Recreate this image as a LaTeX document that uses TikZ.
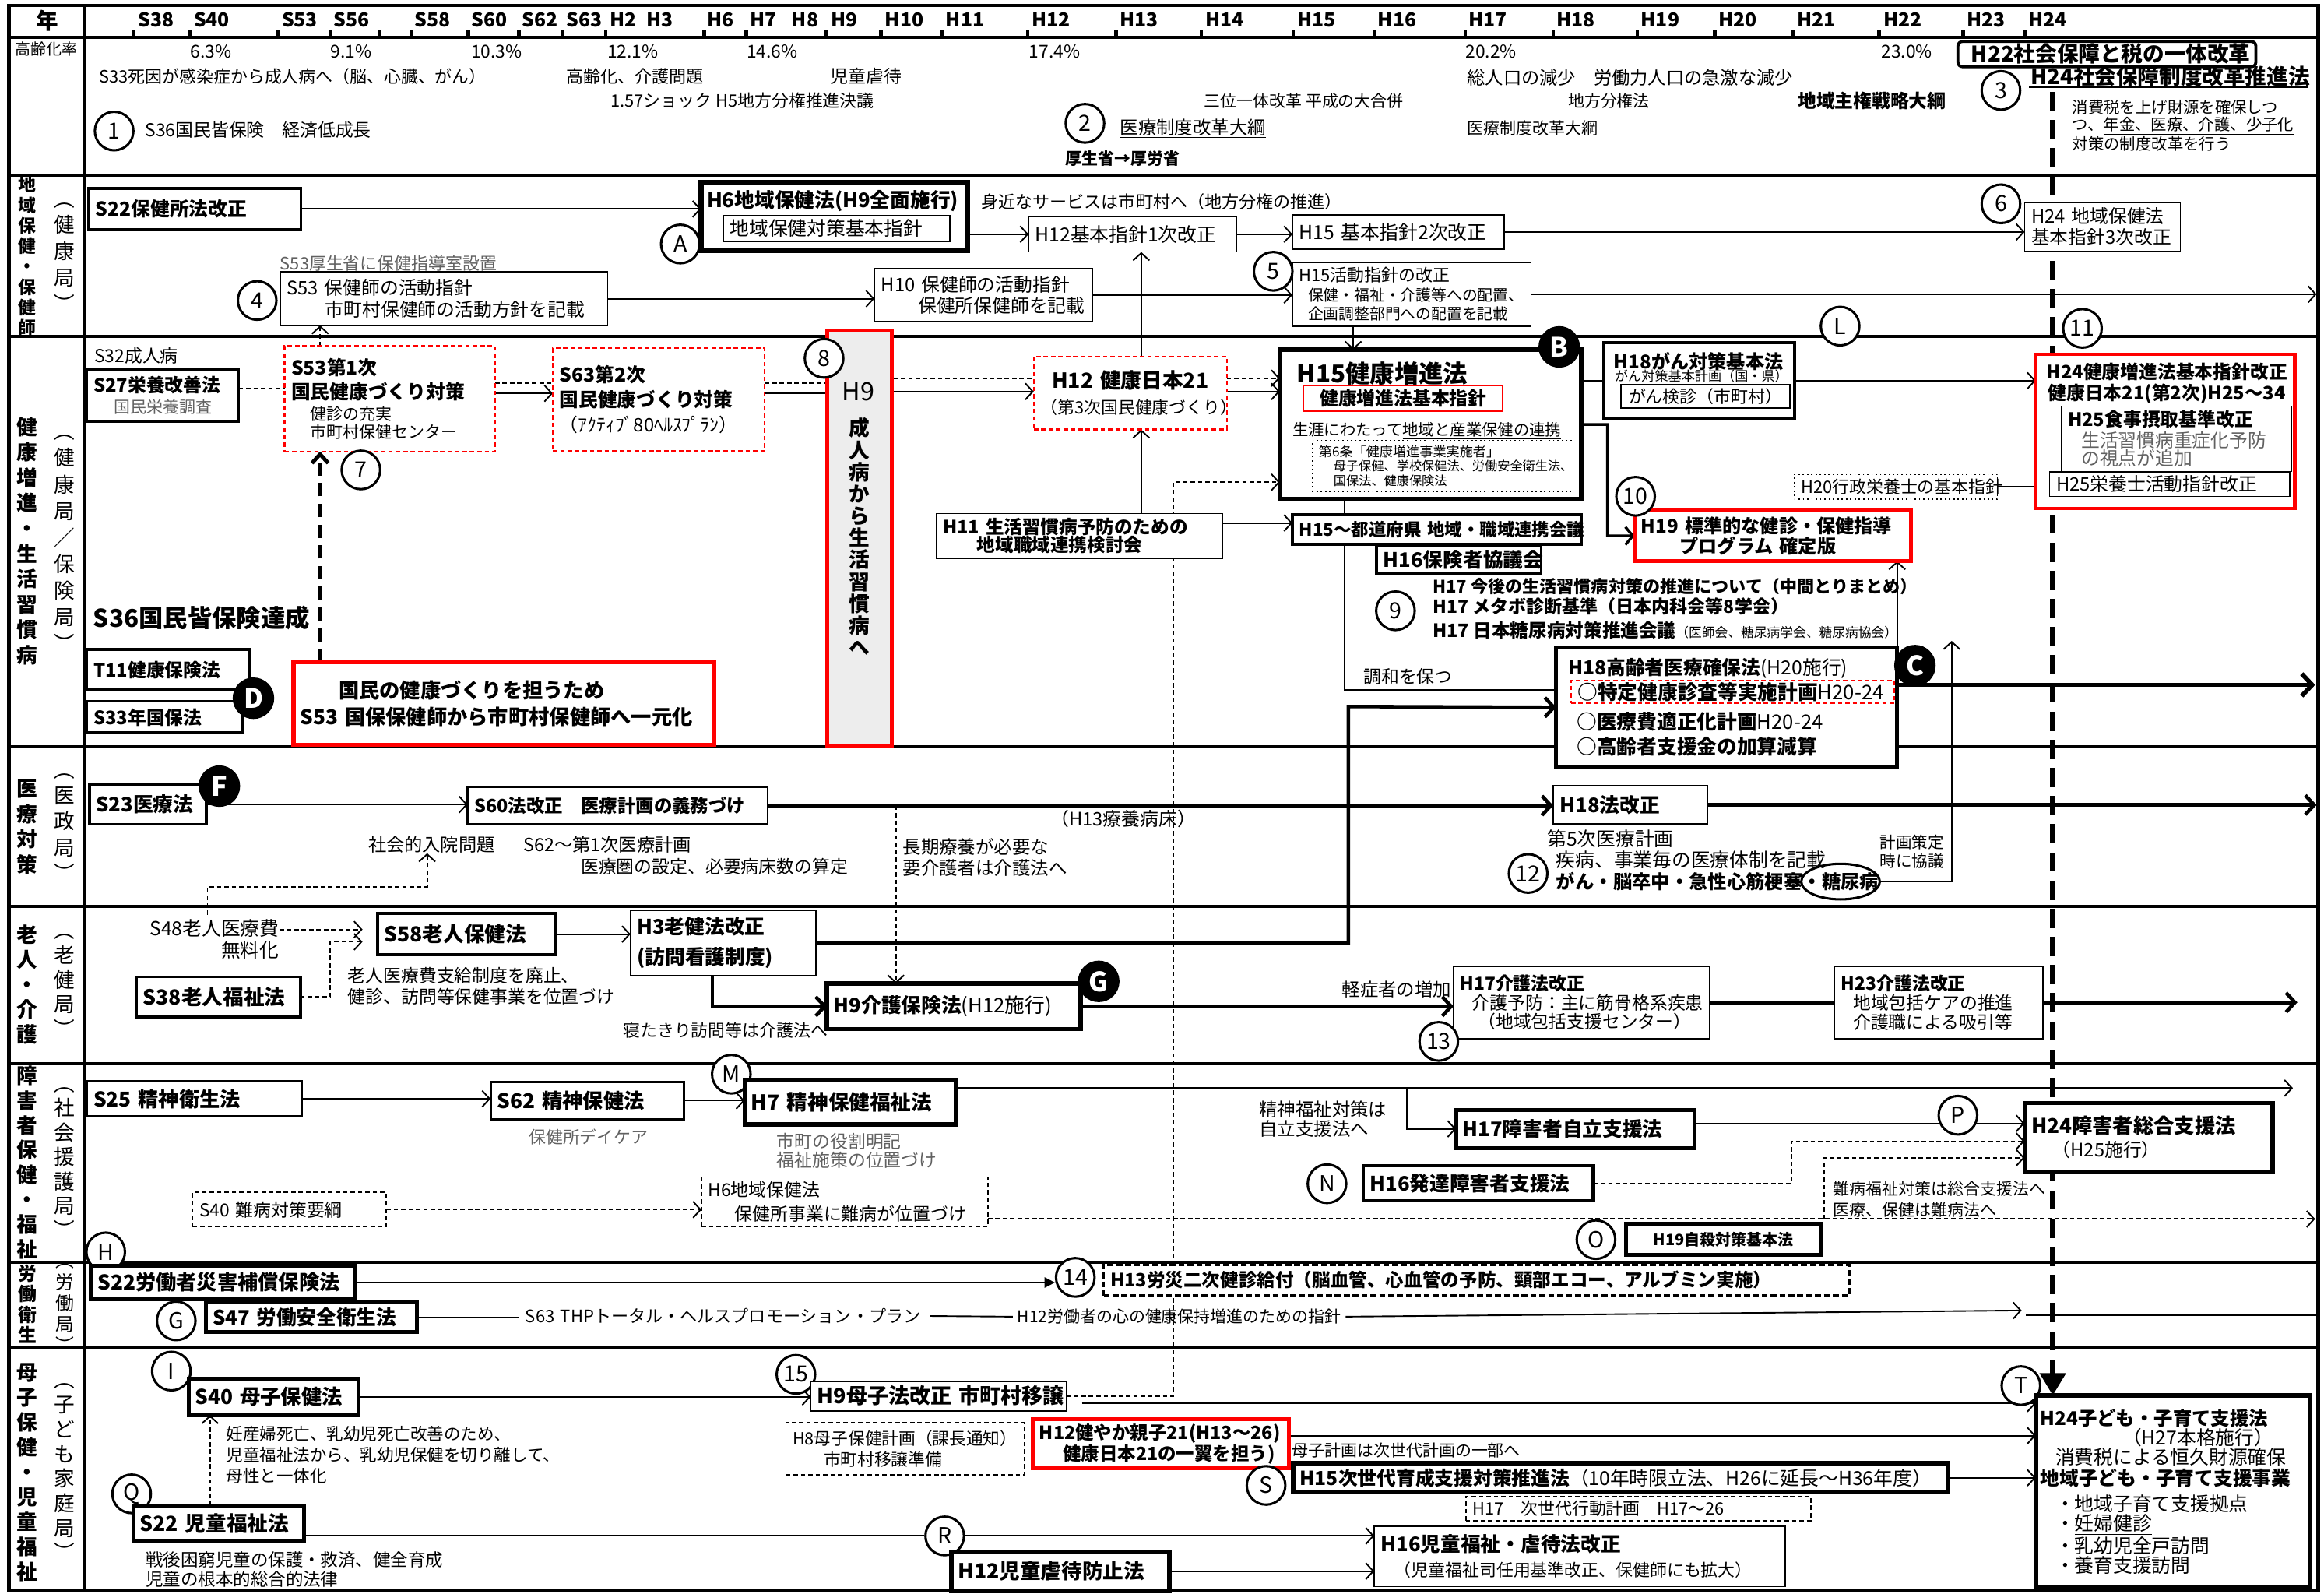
\documentclass[tikz,border=0pt]{standalone}
\usepackage{fontspec}
\setmainfont{Noto Sans CJK JP}
\usetikzlibrary{arrows.meta,shapes.geometric}
\pgfdeclarelayer{back}
\pgfdeclarelayer{bg}
\pgfsetlayers{back,bg,main}
\newcommand\fs[2]{\fontsize{#1}{#2}\selectfont}
\newdimen\bxw
\newcommand\BX[7]{\bxw=#5pt\advance\bxw by -9pt\relax
  \node[#1,anchor=north west,minimum width=#5pt,minimum height=#6pt,text width=\bxw] (#2) at (#3,#4) {#7};}
\newcommand\TX[5]{\node[tx,#1] (#2) at (#3,#4) {#5};}
\definecolor{gtx}{gray}{0.38}
\begin{document}
\begin{tikzpicture}[x=1pt,y=-1pt,
  tx/.style={anchor=west,inner sep=0pt,outer sep=0pt},
  bx/.style={draw,line width=0.9pt,inner xsep=4pt,inner ysep=0pt,outer sep=0pt,align=left,fill=white},
  tk/.style={bx,line width=2pt},
  rbx/.style={bx,draw=red,line width=2.5pt},
  rdb/.style={bx,draw=red,line width=1.1pt,dash pattern=on 3pt off 2pt},
  db/.style={bx,line width=0.9pt,dash pattern=on 3pt off 2pt},
  circ/.style={circle,draw,line width=1.6pt,fill=white,minimum size=26pt,inner sep=0pt,font=\fs{15}{15}},
  bcirc/.style={circle,draw,fill=black,line width=1pt,minimum size=27pt,inner sep=0pt,text=white,font=\bfseries\fs{18}{18}},
  vl/.style={align=center,inner sep=0pt},
  ln/.style={line width=1pt},
  arr/.style={ln,-{Straight Barb[length=5pt,width=11pt]}},
  dln/.style={ln,dash pattern=on 3pt off 2pt},
  darr/.style={arr,dash pattern=on 3pt off 2pt},
  thln/.style={line width=2.4pt},
  tharr/.style={thln,-{Straight Barb[length=6pt,width=13pt]}},
]
\useasboundingbox (0,0) rectangle (1568,1075);
\begin{pgfonlayer}{back}
\fill[white] (0,0) rectangle (1568,1075);
\end{pgfonlayer}

% ---------------- header ----------------
\node[inner sep=0pt,font=\bfseries\fs{15}{15}] (nen) at (32,14) {年};
\foreach \xx/\lab in {93/S38,130.6/S40,190/S53,225/S56,279.5/S58,318/S60,352/S62,382/S63,411.5/H2,436/H3,477/H6,505.8/H7,534/H8,560.4/H9,597/H10,638/H11,696/H12,755.5/H13,813/H14,875/H15,929.5/H16,990.8/H17,1050/H18,1107/H19,1159.5/H20,1212.5/H21,1270.5/H22,1327/H23,1368.5/H24}
  \node[anchor=base west,inner sep=0pt,font=\bfseries\fs{13}{13}] (yr\lab) at (\xx,18) {\lab};
\foreach \xx/\pp [count=\i] in {142.4/6.3,237/9.1,335/10.3,427/12.1,521/14.6,711.5/17.4,1006/20.2,1286.5/23.0}
  \node[inner sep=0pt,font=\fs{12}{12}] (pc\i) at (\xx,35) {\pp\%};
\TX{font=\fs{10.5}{12}}{korei}{10}{33}{高齢化率}
\TX{font=\fs{11.5}{13}}{t1}{67}{51.6}{S33死因が感染症から成人病へ（脳、心臓、がん）}
\TX{font=\fs{11.6}{13}}{t2}{382}{51.6}{高齢化、介護問題}
\TX{font=\fs{12}{13}}{t3}{560.4}{51.6}{児童虐待}
\TX{font=\fs{12.2}{13}}{t4}{990}{52.5}{総人口の減少　労働力人口の急激な減少}
\TX{font=\fs{11.5}{13}}{t5}{412}{68}{1.57ショック H5地方分権推進決議}
\TX{font=\fs{11}{13}}{t6}{812.5}{68.3}{三位一体改革 平成の大合併}
\TX{font=\fs{11}{13}}{t7}{1058}{68}{地方分権法}
\TX{font=\bfseries\fs{12.5}{13}}{t8}{1213}{68}{地域主権戦略大綱}
\node[circ] (c1) at (77,88.4) {1};
\TX{font=\fs{12}{13}}{t9}{98}{87.6}{S36国民皆保険　経済低成長}
\node[circ] (c2) at (732,83.2) {2};
\TX{font=\fs{12.3}{13}}{t10}{755.7}{86.7}{\underline{医療制度改革大綱}}
\TX{font=\fs{11}{13}}{t11}{990}{86.7}{医療制度改革大綱}
\TX{font=\bfseries\fs{11}{13}}{t12}{718.8}{107}{厚生省→厚労省}
\node[draw,rounded corners=3pt,line width=2pt,anchor=north west,minimum width=201pt,minimum height=17pt,inner xsep=9pt,inner ysep=0pt,font=\bfseries\fs{14.5}{15},text width=183pt,align=left,fill=white] (h22) at (1320,27) {H22社会保障と税の一体改革};
\TX{font=\bfseries\fs{14.5}{15}}{t13}{1370}{51.5}{H24社会保障制度改革推進法}
\node[circ] (c3) at (1350,61) {3};
\node[align=left,anchor=west,inner sep=0pt,font=\fs{10.7}{11.8}] (t14) at (1398,85.5) {消費税を上げ財源を確保しつ\\つ、\underline{年金、医療、介護、少子化}\\\underline{対策}の制度改革を行う};

% ---------------- 地域保健 ----------------
\node[vl,font=\bfseries\fs{12}{13.8}] (lab1) at (18.4,172.9) {地\\域\\保\\健\\・\\保\\健\\師};
\node[vl,font=\fs{14}{17.75}] (lab1p) at (43.6,173.5) {︵\\健\\康\\局\\︶};
\BX{tk,font=\bfseries\fs{13}{15}}{s22hc}{60}{127}{143}{28}{S22保健所法改正}
\BX{bx,line width=3.2pt}{h6}{473}{123}{180}{46}{}
\TX{font=\bfseries\fs{13.5}{15}}{h6t}{477}{135.6}{H6地域保健法(H9全面施行)}
\BX{bx,font=\fs{13}{15}}{h6in}{488}{145.3}{153}{17.5}{地域保健対策基本指針}
\node[circ] (cA) at (459,164.6) {A};
\TX{font=\fs{11.6}{13}}{mijika}{662}{136}{身近なサービスは市町村へ（地方分権の推進）}
\BX{bx,font=\fs{13}{15}}{h12k}{694}{146}{140}{24}{H12基本指針1次改正}
\BX{bx,font=\fs{13}{15}}{h15k}{872}{145}{143}{23}{H15~基本指針2次改正}
\BX{bx,font=\fs{12.5}{14}}{h24k}{1366}{136.5}{105}{33}{H24~地域保健法\\基本指針3次改正}
\node[circ] (c6) at (1350,137.5) {6};
\TX{font=\fs{11.5}{13},text=gtx}{shido}{189}{177.7}{S53厚生省に保健指導室設置}
\BX{bx,font=\fs{12.5}{14.8}}{s53k}{189}{183.5}{221}{36}{S53~保健師の活動指針\\\hspace*{26pt}市町村保健師の活動方針を記載}
\node[circ] (c4) at (173.5,202.7) {4};
\BX{bx,font=\fs{12.5}{14}}{h10k}{590}{181}{147}{36}{H10~保健師の活動指針\\\hspace*{25pt}保健所保健師を記載}
\BX{bx,font=\fs{10.4}{12.8}}{h15a}{872}{177}{161}{43}{{\fs{11.5}{12.8}H15活動指針の改正}\\\hspace*{6pt}\underline{保健・福祉・介護等への配置、}\\\hspace*{6pt}企画調整部門への配置を記載}
\node[circ] (c5) at (859,183) {5};

% ---------------- 健康増進 ----------------
\node[vl,font=\bfseries\fs{14}{17.1}] (lab2) at (18.4,364.9) {健\\康\\増\\進\\・\\生\\活\\習\\慣\\病};
\node[vl,font=\fs{14}{17.9}] (lab2p) at (43.6,366.5) {︵\\健\\康\\局\\／\\保\\険\\局\\︶};
\TX{font=\fs{12}{13}}{s32}{63.7}{240}{S32成人病}
\BX{tk,font=\fs{12.5}{14.3}}{s27}{58.6}{249.7}{102.4}{34.3}{\textbf{S27栄養改善法}\\\hspace*{14pt}{\color{gtx}\fs{11}{14.3}国民栄養調査}}
\BX{rdb,font=\fs{13}{14}}{s53d1}{192}{233.5}{142}{71}{\textbf{S53第1次}\\[2.4pt]\textbf{国民健康づくり対策}\\\hspace*{13pt}{\fs{11}{14}健診の充実}\\[-2.1pt]\hspace*{13pt}{\fs{11}{14}市町村保健センター}}
\BX{rdb,font=\fs{13}{15}}{s63d2}{373}{235}{143}{69}{\textbf{S63第2次}\\[1.8pt]\textbf{国民健康づくり対策}\\[1.8pt]{\fs{12.5}{15}（ｱｸﾃｨﾌﾞ80ﾍﾙｽﾌﾟﾗﾝ）}}
\node[draw=red,line width=2.2pt,fill=black!7,anchor=north west,minimum width=43.6pt,minimum height=280.8pt,inner sep=0pt] (h9) at (557,221.6) {};
\node[inner sep=0pt,font=\fs{17}{17}] (h9t) at (579,264) {H9};
\node[vl,font=\bfseries\fs{14}{14.8}] (h9v) at (579.6,362) {成\\人\\病\\か\\ら\\生\\活\\習\\慣\\病\\へ};
\node[circ] (c8) at (556,241.7) {8};
\BX{rdb,align=center,font=\fs{14}{17.5}}{h12j}{697.5}{240.5}{130.2}{49.2}{\textbf{H12~健康日本21}\\{\fs{11.5}{17.5}（第3次国民健康づくり）}}
\BX{bx,line width=3.2pt}{h15z}{863.5}{236}{203.5}{100.7}{}
\TX{font=\bfseries\fs{16.5}{17}}{h15zt}{875}{252}{H15健康増進法}
\BX{bx,draw=red,line width=1pt,align=center,font=\bfseries\fs{12.5}{14}}{h15zin}{879.6}{260}{134.4}{17.3}{健康増進法基本指針}
\TX{font=\fs{10.7}{12}}{shogai}{872}{290.6}{生涯にわたって\underline{地域と産業保健の連携}}
\BX{bx,dotted,line width=0.6pt,font=\fs{9}{9.7}}{h15zd}{885.3}{297}{176}{34.7}{第6条「健康増進事業実施者」\\\hspace*{10pt}{\fs{8.5}{9.7}母子保健、学校保健法、労働安全衛生法、}\\\hspace*{10pt}{\fs{8.5}{9.7}国保法、健康保険法}}
\node[bcirc] (cB) at (1052,234) {B};
\BX{tk}{h18g}{1081.8}{231.3}{128.8}{51}{}
\node[inner sep=0pt,font=\bfseries\fs{12.7}{13}] (h18gt) at (1146,243.6) {H18がん対策基本法};
\node[inner sep=0pt,font=\fs{9}{10}] (h18gt2) at (1148,253.7) {がん対策基本計画（国・県）};
\BX{bx,align=center,font=\fs{11.5}{13}}{h18gin}{1093.5}{259.3}{114.3}{16}{がん検診（市町村）}
\node[circ] (cL) at (1241.5,220) {L};
\node[circ] (c11) at (1405,221.5) {11};
\BX{rbx}{h24z}{1373.5}{239}{174.8}{104}{}
\node[inner sep=0pt,font=\bfseries\fs{12.5}{13}] (h24zt1) at (1462,251) {H24健康増進法基本指針改正};
\node[inner sep=0pt,font=\bfseries\fs{12.5}{13}] (h24zt2) at (1462,265.7) {健康日本21(第2次)H25～34};
\BX{bx,font=\fs{12.5}{12.5}}{h25s}{1390.7}{274}{155.3}{44}{\textbf{H25食事摂取基準改正}\\[1.5pt]\hspace*{9pt}{\color{gtx}生活習慣病重症化予防}\\\hspace*{9pt}{\color{gtx}の視点が追加}}
\BX{bx,font=\fs{12.5}{13}}{h25e}{1382.8}{318.3}{162.2}{16.5}{H25栄養士活動指針改正}
\BX{bx,dotted,line width=0.7pt,font=\fs{11.5}{13}}{h20g}{1210.6}{320}{137}{16.7}{H20行政栄養士の基本指針}
\BX{rbx,font=\bfseries\fs{12.7}{13.9}}{h19}{1102.8}{344.4}{186.7}{34.1}{H19~標準的な健診・保健指導\\\hspace*{26pt}プログラム~確定版}
\node[circ] (c10) at (1103.5,334.8) {10};
\BX{bx,font=\bfseries\fs{12.4}{12.2}}{h11}{631.7}{346.4}{193.3}{30.2}{H11~生活習慣病予防のための\\\hspace*{23pt}地域職域連携検討会}
\BX{tk,font=\bfseries\fs{11.8}{13}}{h15t}{872}{347.3}{195}{19.7}{H15～都道府県~地域・職域連携会議}
\BX{tk,font=\bfseries\fs{13.5}{13}}{h16h}{928.8}{368}{111}{18.8}{H16保険者協議会}
\node[circ] (c9) at (941.5,412) {9};
\TX{font=\bfseries\fs{11.6}{12}}{h17a}{966.7}{395.6}{H17 今後の生活習慣病対策の推進について（中間とりまとめ）}
\TX{font=\bfseries\fs{12.1}{12}}{h17b}{966.7}{408.9}{H17 メタボ診断基準（日本内科会等8学会）}
\TX{font=\bfseries\fs{12.4}{12}}{h17c}{966.7}{425}{H17 日本糖尿病対策推進会議{\mdseries\fs{8.8}{10}（医師会、糖尿病学会、糖尿病協会）}}
\TX{font=\fs{12}{13}}{chowa}{920}{456.4}{調和を保つ}
\BX{bx,line width=2.6pt}{h18k}{1050}{437}{230}{80.3}{}
\TX{font=\fs{13}{14}}{h18kt}{1058}{450.8}{\textbf{H18高齢者医療確保法}(H20施行)}
\BX{bx,draw=red,line width=1pt,dash pattern=on 3pt off 2pt,font=\bfseries\fs{13.5}{14}}{tokutei}{1060}{459}{218}{15.4}{○特定健康診査等実施計画{\mdseries H20-24}}
\TX{font=\bfseries\fs{13.5}{14}}{iryohi}{1064}{486.8}{○医療費適正化計画{\mdseries H20-24}}
\TX{font=\bfseries\fs{13.5}{14}}{koureisha}{1064}{503.4}{○高齢者支援金の加算減算}
\node[bcirc] (cC) at (1292,449) {C};
\TX{font=\bfseries\fs{16.5}{17}}{s36}{63}{416.8}{S36国民皆保険達成}
\BX{tk,font=\bfseries\fs{12.5}{13}}{t11n}{58.6}{438}{109.4}{27.6}{T11健康保険法}
\BX{tk,font=\bfseries\fs{12.5}{13}}{s33}{58.6}{473}{105.4}{21.5}{S33年国保法}
\node[bcirc] (cD) at (171,471) {D};
\BX{rbx,line width=3pt,font=\bfseries\fs{13.8}{17.5}}{red53}{198}{446.8}{283.7}{55.7}{\hspace*{26pt}国民の健康づくりを担うため\\S53~国保保健師から市町村保健師へ一元化}
\node[circ] (c7) at (243.5,317) {7};

% ---------------- 医療対策 ----------------
\node[vl,font=\bfseries\fs{14}{17.2}] (lab3) at (18.4,557.8) {医\\療\\対\\策};
\node[vl,font=\fs{14}{17.5}] (lab3p) at (43.6,558) {︵\\医\\政\\局\\︶};
\BX{tk,font=\bfseries\fs{13.5}{14}}{s23}{60.3}{529.4}{78.7}{26.6}{S23医療法}
\node[bcirc] (cF) at (148,530.3) {F};
\BX{bx,line width=1.2pt,font=\bfseries\fs{12.3}{14}}{s60}{315.5}{530.8}{202.5}{25.2}{S60法改正　医療計画の義務づけ}
\BX{bx,line width=1.2pt,font=\bfseries\fs{13.5}{14}}{h18h}{1048}{530}{103.8}{26}{H18法改正}
\TX{font=\fs{12.5}{14}}{h13ryo}{708.8}{552.4}{（H13療養病床）}
\TX{font=\fs{12.2}{13}}{shakai}{248.5}{569.9}{社会的入院問題}
\TX{font=\fs{12.2}{13}}{s62iryo}{353.4}{569.9}{S62～第1次医療計画}
\TX{font=\fs{12}{13}}{iryoken}{392}{584.6}{医療圏の設定、必要病床数の算定}
\node[align=left,anchor=west,inner sep=0pt,font=\fs{12.3}{14.4}] (choki) at (609,578.4) {長期療養が必要な\\要介護者は介護法へ};
\node[circ] (c12) at (1031,589.2) {12};
\TX{font=\fs{13}{13}}{dai5}{1044}{566}{第5次医療計画}
\TX{font=\fs{13}{13}}{shippei}{1050}{580}{疾病、事業毎の医療体制を記載}
\TX{font=\bfseries\fs{12.8}{13}}{gan}{1050}{594.7}{がん・脳卒中・急性心筋梗塞・糖尿病}
\node[ellipse,draw,line width=1.6pt,minimum width=53pt,minimum height=24pt,inner sep=0pt] (ell) at (1241.8,594.7) {};
\node[align=left,inner sep=0pt,font=\fs{10.8}{13}] (keikaku) at (1290,574.5) {計画策定\\時に協議};

% ---------------- 老人・介護 ----------------
\node[vl,font=\bfseries\fs{14}{16.8}] (lab4) at (18.4,664.3) {老\\人\\・\\介\\護};
\node[vl,font=\fs{14}{16.6}] (lab4p) at (43.6,664.8) {︵\\老\\健\\局\\︶};
\node[align=right,anchor=east,inner sep=0pt,font=\fs{13}{14.8}] (s48) at (188.5,633.4) {S48老人医療費\\無料化};
\BX{tk,font=\bfseries\fs{14}{15}}{s58}{254.6}{616.3}{119.9}{27.7}{S58老人保健法}
\BX{tk,font=\bfseries\fs{14}{15}}{s38}{92}{659}{110.6}{27}{S38老人福祉法}
\node[align=left,anchor=west,inner sep=0pt,font=\fs{12}{13.8}] (roujin) at (234.5,665.2) {老人医療費支給制度を廃止、\\健診、訪問等保健事業を位置づけ};
\BX{bx,font=\bfseries\fs{13.5}{20.4}}{h3}{425.4}{614}{125}{44.3}{H3老健法改正\\(訪問看護制度)}
\TX{font=\fs{11.5}{13}}{netakiri}{420.4}{695.2}{寝たきり訪問等は介護法へ}
\BX{bx,line width=3pt,font=\fs{13.5}{14}}{h9k}{558}{663.5}{171}{30.7}{\textbf{H9介護保険法}(H12施行)}
\node[bcirc] (cG) at (741.3,662) {G};
\TX{font=\fs{12.3}{13}}{keisho}{905.4}{667.5}{軽症者の増加}
\BX{bx,font=\fs{12}{13.1}}{h17k}{980.7}{651.8}{172.7}{48.8}{\textbf{H17介護法改正}\\\hspace*{8pt}介護予防：主に筋骨格系疾患\\\hspace*{12pt}（地域包括支援センター）}
\node[circ] (c13) at (970.7,702.5) {13};
\BX{bx,font=\fs{12}{13.1}}{h23k}{1237.8}{651.8}{140.6}{48.8}{\textbf{H23介護法改正}\\\hspace*{8pt}地域包括ケアの推進\\\hspace*{8pt}介護職による吸引等}

% ---------------- 障害者 ----------------
\node[vl,font=\bfseries\fs{14}{16.74}] (lab5) at (18.4,784.1) {障\\害\\者\\保\\健\\・\\福\\祉};
\node[vl,font=\fs{14}{16.5}] (lab5p) at (43.6,784.4) {︵\\社\\会\\援\\護\\局\\︶};
\node[circ] (cM) at (493.4,724.6) {M};
\BX{bx,line width=1.5pt,font=\bfseries\fs{13.8}{14}}{s25}{58.6}{729.2}{145.1}{24}{S25~精神衛生法}
\BX{bx,line width=1.5pt,font=\bfseries\fs{13.8}{14}}{s62}{331}{730}{130.6}{25}{S62~精神保健法}
\BX{bx,line width=3pt,font=\bfseries\fs{14}{14}}{h7}{502.4}{728.3}{142.7}{30.4}{H7~精神保健福祉法}
\TX{font=\fs{11.5}{13},text=gtx}{daycare}{356.8}{766.8}{保健所デイケア}
\node[align=left,anchor=west,inner sep=0pt,font=\fs{12}{12.8},text=gtx] (shicho) at (524,776.2) {市町の役割明記\\福祉施策の位置づけ};
\node[align=left,anchor=west,inner sep=0pt,font=\fs{12.3}{13}] (seishin) at (849.4,755) {精神福祉対策は\\自立支援法へ};
\BX{bx,line width=2.5pt,font=\bfseries\fs{13.5}{14}}{h17s}{982.4}{748.6}{161}{25.8}{H17障害者自立支援法}
\node[circ] (cP) at (1321,752.3) {P};
\BX{bx,line width=3pt,font=\bfseries\fs{13.8}{15.6}}{h24s}{1366}{744}{167.3}{46.6}{H24障害者総合支援法\\\hspace*{14pt}{\mdseries\fs{12.5}{15.6}（H25施行）}}
\BX{bx,line width=2.5pt,font=\bfseries\fs{13.5}{14}}{h16d}{919.8}{786.4}{155.2}{23.6}{H16発達障害者支援法}
\node[circ] (cN) at (895.3,798.5) {N};
\node[align=left,anchor=west,inner sep=0pt,font=\fs{11}{14}] (nanbyo) at (1236.8,809) {難病福祉対策は総合支援法へ\\医療、保健は難病法へ};
\BX{db,font=\fs{12}{13}}{s40n}{130}{804.4}{130.6}{23.2}{S40~難病対策要綱}
\BX{db,font=\fs{12}{16}}{h6n}{473.3}{794}{193.2}{33.6}{H6地域保健法\\\hspace*{18pt}保健所事業に難病が位置づけ}
\node[circ] (cO) at (1076.8,836.2) {O};
\BX{bx,line width=2.5pt,align=center,font=\bfseries\fs{10.5}{11}}{h19j}{1096.9}{825.6}{131.6}{20.9}{H19自殺対策基本法}
\node[circ] (cH) at (71.3,844.5) {H};

% ---------------- 労働衛生 ----------------
\node[vl,font=\bfseries\fs{12.5}{14}] (lab6) at (18.4,879.65) {労\\働\\衛\\生};
\node[vl,font=\fs{12.5}{14.25}] (lab6p) at (43.6,882.5) {︵\\労\\働\\局\\︶};
\BX{bx,line width=2.5pt,font=\bfseries\fs{13.8}{14}}{s22r}{61.3}{854}{178.2}{22.3}{S22労働者災害補償保険法}
\node[circ] (c14) at (725.5,861.7) {14};
\BX{bx,line width=2pt,dash pattern=on 4pt off 2pt,font=\bfseries\fs{12.4}{13}}{h13r}{744.6}{853}{502.8}{21}{H13労災二次健診給付（脳血管、心血管の予防、頸部エコー、アルブミン実施）}
\node[circ] (cGr) at (118.9,891) {G};
\BX{bx,line width=2.5pt,font=\bfseries\fs{13.5}{14}}{s47}{139}{878.7}{142.4}{20}{S47~労働安全衛生法}
\BX{bx,line width=0.8pt,dash pattern=on 2pt off 2pt,font=\fs{11.6}{12}}{s63t}{350}{879.7}{277.4}{16.1}{S63~THPトータル・ヘルスプロモーション・プラン}
\node[inner xsep=3pt,inner ysep=0pt,font=\fs{11}{12}] (h12r) at (795.6,888.2) {H12労働者の心の健康保持増進のための指針};

% ---------------- 母子保健 ----------------
\node[vl,font=\bfseries\fs{14}{16.8}] (lab7) at (18.4,993.5) {母\\子\\保\\健\\・\\児\\童\\福\\祉};
\node[vl,font=\fs{14}{16.66}] (lab7p) at (43.6,993) {︵\\子\\ど\\も\\家\\庭\\局\\︶};
\node[circ] (cI) at (115.6,924.9) {I};
\BX{bx,line width=2.5pt,font=\bfseries\fs{13.8}{14}}{s40b}{127.3}{930}{114.5}{24.6}{S40~母子保健法}
\node[circ] (c15) at (537,927.1) {15};
\BX{bx,line width=1pt,font=\bfseries\fs{14.2}{14}}{h9b}{547}{931.7}{172.6}{20}{H9母子法改正~市町村移譲}
\node[align=left,anchor=west,inner sep=0pt,font=\fs{11.3}{14.2}] (ninsan) at (152.4,981.2) {妊産婦死亡、乳幼児死亡改善のため、\\児童福祉法から、乳幼児保健を切り離して、\\母性と一体化};
\node[circ] (cQ) at (88.8,1007.7) {Q};
\BX{bx,line width=2.5pt,font=\bfseries\fs{14}{14}}{s22j}{89.8}{1015.8}{115.2}{23.6}{S22~児童福祉法}
\node[align=left,anchor=west,inner sep=0pt,font=\fs{11.8}{13.2}] (sengo) at (98.2,1058.9) {戦後困窮児童の保護・救済、健全育成\\児童の根本的総合的法律};
\node[circ] (cR) at (637.4,1036.1) {R};
\BX{bx,line width=3pt,font=\bfseries\fs{14}{14}}{h12g}{641.8}{1046.6}{147.1}{26.5}{H12児童虐待防止法}
\BX{bx,font=\fs{11.5}{17}}{h16j}{927.2}{1029.4}{277.3}{40.9}{\textbf{\fs{13.5}{17}H16児童福祉・虐待法改正}\\\hspace*{9pt}（児童福祉司任用基準改正、保健師にも拡大）}
\BX{db,font=\fs{11.4}{14.3}}{h8}{530.3}{959.7}{160.7}{35.3}{H8母子保健計画（課長通知）\\\hspace*{21pt}市町村移譲準備}
\BX{rbx,font=\bfseries\fs{12.3}{12.4}}{h12s}{696.7}{957.5}{172.8}{33.1}{H12健やか親子21(H13～26)\\\hspace*{16pt}健康日本21の一翼を担う)}
\TX{font=\fs{11}{12}}{boshikei}{871.8}{978.3}{母子計画は次世代計画の一部へ}
\node[circ] (cS) at (854.2,1002) {S};
\BX{bx,line width=3pt,font=\fs{13}{14}}{h15j}{872.6}{987}{441.9}{19.7}{\textbf{H15次世代育成支援対策推進法}（10年時限立法、H26に延長～H36年度）}
\BX{db,font=\fs{11.5}{12}}{h17j}{989}{1009.6}{232.8}{16.2}{H17　次世代行動計画　H17～26}
\node[circ] (cT) at (1363.5,934.7) {T};
\BX{bx,line width=3pt}{h24c}{1373.5}{941.3}{184.8}{129}{}
\TX{font=\bfseries\fs{12.8}{14}}{c24a}{1376.6}{956.5}{H24子ども・子育て支援法}
\TX{font=\fs{13}{14}}{c24b}{1432}{969.8}{（H27本格施行）}
\TX{font=\fs{13}{14}}{c24c}{1386.8}{983}{消費税による恒久財源確保}
\TX{font=\bfseries\fs{13}{14}}{c24d}{1376.6}{997.3}{地域子ども・子育て支援事業}
\TX{font=\fs{13}{14}}{c24e}{1386.8}{1015.3}{・地域子育て\underline{支援拠点}}
\TX{font=\fs{13}{14}}{c24f}{1386.8}{1028.5}{・\underline{妊婦健診}}
\TX{font=\fs{13}{14}}{c24g}{1386.8}{1042.8}{・乳幼児全戸訪問}
\TX{font=\fs{13}{14}}{c24h}{1386.8}{1056}{・養育支援訪問}

% ---------------- lines on background ----------------
\begin{pgfonlayer}{bg}
\draw[line width=2.2pt] (6,3.5) rectangle (1564,1073);
\draw[line width=2.2pt] (57,3.5) -- (57,1073);
\foreach \yy in {25.2,118.2,227,503.6,611.3,717.6,851.5,909.3} \draw[line width=2.2pt] (6,\yy) -- (1564,\yy);
\foreach \xx in {90.4,128.3,187.6,222.7,256.2,277.3,315.9,350,379.5,408.7,475,503.4,557.7,594.5,635.8,693.3,753,810.6,872.6,927.2,988.5,1048,1104.6,1156.8,1210,1267.8,1324.4,1366}
  \draw[line width=2.4pt] (\xx,20.5) -- (\xx,25.2);
\coordinate (ul1) at (1369,58.6);
\coordinate (ul2) at (1557,58.6);
\draw[line width=1.3pt] (ul1) -- (ul2);
% big dashed
\coordinate (k12) at (1385,62);
\draw[line width=3.4pt,dash pattern=on 13pt off 6pt,-{Triangle[length=15pt,width=17pt]}] (k12) -- (k12 |- h24c.north);
% 地域保健
\draw[arr] (s22hc.east) -- (s22hc.east -| h6.west);
\draw[arr] (h6.east |- h12k.west) -- (h12k.west);
\draw[arr] (h12k.east) -- (h12k.east -| h15k.west);
\draw[arr] (h15k.east) -- (h15k.east -| h24k.west);
\draw[arr] (s53k.east) -- (s53k.east -| h10k.west);
\draw[arr] (h10k.east) -- (h10k.east -| h15a.west);
\coordinate (e1) at (1563,198.5);
\draw[arr] (h15a.east) -- (h15a.east -| e1);
\draw[arr] ([xshift=7.4pt]h12j.north) -- ([xshift=7.4pt]h12j.north |- h12k.south);
\draw[arr] ([xshift=7.4pt]h12j.south |- h11.north) -- ([xshift=7.4pt]h12j.south);
\draw[arr] ([xshift=-39.5pt]h15a.south) -- ([xshift=-39.5pt]h15a.south |- h15z.north);
\draw[darr] ([xshift=-47pt]s53d1.north) -- ([xshift=-47pt]s53d1.north |- s53k.south);
% 健康増進
\draw[dln] ([yshift=4.8pt]s27.east) -- ([yshift=4.8pt]s27.east -| s53d1.west);
\draw[dln] ([yshift=10.7pt]s53d1.east) -- ([yshift=10.7pt]s53d1.east -| s63d2.west);
\draw[arr] ([yshift=3.6pt]s53d1.east) -- ([yshift=3.6pt]s53d1.east -| s63d2.west);
\draw[dln] ([yshift=11.2pt]s63d2.east) -- ([yshift=11.2pt]s63d2.east -| h9.west);
\draw[ln] ([yshift=4.1pt]s63d2.east) -- ([yshift=4.1pt]s63d2.east -| h9.west);
\draw[dln] ([yshift=10pt]h12j.west -| h9.east) -- ([yshift=10pt]h12j.west);
\draw[arr] ([yshift=1pt]h12j.west -| h9.east) -- ([yshift=1pt]h12j.west);
\draw[darr] ([yshift=10pt]h12j.east) -- ([yshift=10pt]h12j.east -| h15z.west);
\draw[arr] ([yshift=1pt]h12j.east) -- ([yshift=1pt]h12j.east -| h15z.west);
\draw[arr] ([yshift=8.7pt]h11.east) -- ([yshift=8.7pt]h11.east -| h15t.west);
\coordinate (dv) at (791.5,325.3);
\draw[darr] (h9b.east) -| (dv) -- (dv -| h15z.west);
\draw[ln] (h18g.west -| h15z.east) -- (h18g.west);
\draw[arr] (h18g.east) -- (h18g.east -| h24z.west);
\draw[arr] (h20g.east) -- (h20g.east -| h25e.west);
\coordinate (k1) at (1084.5,361.5);
\draw[line width=1.8pt,-{Straight Barb[length=5pt,width=12pt]}] (h15z.east) -| (k1) -- (h19.west);
\draw[ln] ([xshift=-58.3pt]h15z.south) |- ([yshift=11.9pt]h18k.west);
\coordinate (k2) at (909.7,476.6);
\draw[tharr] (h3.east) -| (k2) -- (h18k.west);
\draw[arr] (h18k.north east) -- (h18k.north east |- h19.south);
\coordinate (e2) at (1562,462);
\draw[line width=3pt,-{Straight Barb[length=7pt,width=15pt]}] (h18k.east |- e2) -- (e2);
\coordinate (k3) at (1316.8,432.3);
\draw[arr] (ell.east) -| (k3);
\draw[line width=2.6pt,dash pattern=on 9pt off 5pt,-{Straight Barb[length=6pt,width=11pt]}] ([xshift=-123.9pt]red53.north) -- ([xshift=-123.9pt]red53.north |- s53d1.south);
% 医療
\draw[arr] (s23.east) -- (s23.east -| s60.west);
\draw[tharr] (s60.east) -- (s60.east -| h18h.west);
\coordinate (e3) at (1563,544);
\draw[tharr] (h18h.east) -- (h18h.east -| e3);
\coordinate (k4) at (140,617);
\coordinate (k5) at (140,598.4);
\draw[darr] (k4) -- (k5) -| ([xshift=-3pt]shakai.south);
\draw[darr] ([xshift=-39pt]h9k.north |- s60.east) -- ([xshift=-39pt]h9k.north);
% 老人
\draw[darr,shorten >=10pt] ([yshift=6.4pt]s48.east) -- ([yshift=6.4pt]s48.east -| s58.west);
\coordinate (k6) at (222.8,635.3);
\draw[darr,shorten >=10pt] (s38.east) -| (k6) -- (k6 -| s58.west);
\draw[arr] (s58.east) -- (s58.east -| h3.west);
\draw[tharr] ([xshift=-7.2pt]h3.south) |- (h9k.west);
\draw[tharr] (h9k.east) -- (h9k.east -| h17k.west);
\draw[thln] (h17k.east) -- (h17k.east -| h23k.west);
\coordinate (e4) at (1550,675);
\draw[tharr] (h23k.east) -- (h23k.east -| e4);
% 障害
\draw[arr] (s25.east) -- (s25.east -| s62.west);
\draw[arr] (s62.east) -- (s62.east -| h7.west);
\coordinate (e5) at (1547,734);
\draw[arr] (h7.east |- e5) -- (e5);
\coordinate (k7) at (949,734);
\draw[arr] (k7) |- (h17s.west);
\draw[arr] ([yshift=3.7pt]h17s.east) -- ([yshift=3.7pt]h17s.east -| h24s.west);
\coordinate (k8) at (1208.5,769.8);
\draw[darr] (h16d.east) -| (k8) -- (k8 -| h24s.west);
\coordinate (k9) at (1230.8,822.3);
\coordinate (k10) at (1230.8,781);
\draw[darr] (k9) -- (k10) -- (k10 -| h24s.west);
\draw[darr] (s40n.east) -- (s40n.east -| h6n.west);
\coordinate (e6) at (1562,822.3);
\draw[darr] (h6n.east |- e6) -- (e6);
% 労働
\draw[line width=1pt,-{Triangle[length=7pt,width=7pt]}] (s22r.east) -- (s22r.east -| c14.west);
\draw[ln] (s47.east) -- (s47.east -| s63t.west);
\draw[ln] (s63t.east) -- (h12r.west);
\coordinate (e7) at (1364,884);
\draw[arr] (h12r.east) -- (e7);
\coordinate (e8) at (1367,887);
\coordinate (e9) at (1563,887);
\draw[ln] (e8) -- (e9);
% 母子
\draw[arr] (s40b.east) -- (s40b.east -| h9b.west);
\coordinate (k11) at (730,946.8);
\draw[arr] (k11) -- (k11 -| h24c.west);
\draw[arr] ([yshift=5.6pt]h12s.east) -- ([yshift=5.6pt]h12s.east -| h24c.west);
\draw[arr] (h15j.east) -- (h15j.east -| h24c.west);
\draw[darr] ([xshift=-5.7pt]s22j.north) -- ([xshift=-5.7pt]s22j.north |- s40b.south);
\draw[ln] (s22j.east |- cR) -- (cR);
\draw[arr] (cR) -- (cR -| h16j.west);
\draw[arr] (h12g.east) -- (h12g.east -| h16j.west);
\end{pgfonlayer}
\end{tikzpicture}
\end{document}
